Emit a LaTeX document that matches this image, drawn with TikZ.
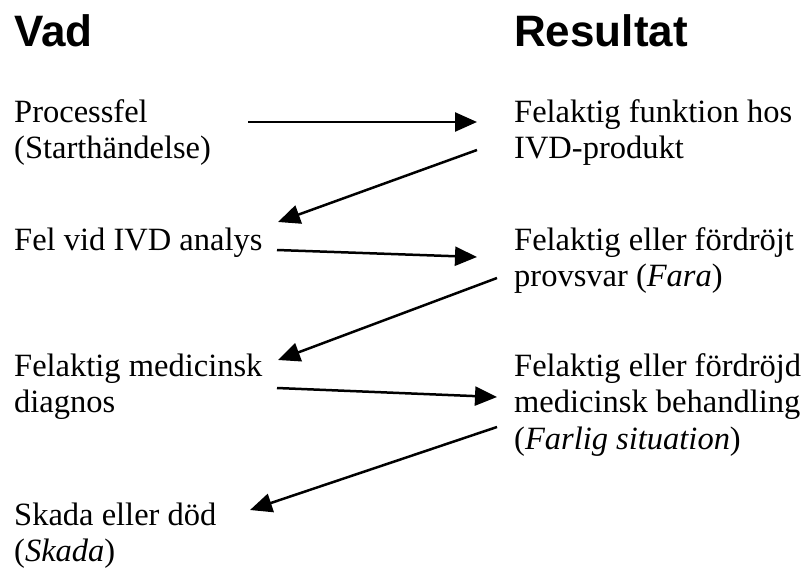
\documentclass[tikz,border=0pt]{standalone}
\usepackage{fontspec}
\setmainfont{Liberation Serif}
\newfontfamily\headfont{Liberation Sans}
\usepackage{tikz}
\usetikzlibrary{arrows.meta}

\begin{document}
\begin{tikzpicture}[
  x=1pt,y=-1pt,
  head/.style={anchor=base west,inner sep=0pt,font=\headfont\bfseries\fontsize{44}{50}\selectfont},
  item/.style={anchor=base west,inner sep=0pt,align=left,font=\fontsize{32.5}{36.5}\selectfont},
  arrow/.style={-{Triangle[length=22pt,width=19pt]},line width=2.5pt,draw=black}
]
\useasboundingbox (0,0) rectangle (806,570);
% column heads
\node[head] (vad) at (14,46) {Vad};
\node[head] (resultat) at (514,46) {Resultat};

% left column: what happens, right column: result
% (base of a multi-line node is its last line)
\node[item] (processfel) at (14,158.5) {Processfel\\(Starthändelse)};
\node[item] (funktion) at (514,158.5) {Felaktig funktion hos\\IVD-produkt};
\node[item] (analys) at (14,250) {Fel vid IVD analys};
\node[item] (fara) at (514,286.5) {Felaktig eller fördröjt\\provsvar (\textit{Fara})};
\node[item] (diagnos) at (14,412.5) {Felaktig medicinsk\\diagnos};
\node[item] (behandling) at (514,449) {Felaktig eller fördröjd\\medicinsk behandling\\(\textit{Farlig situation})};
\node[item] (skada) at (14,561.5) {Skada eller död\\(\textit{Skada})};

\draw[arrow] ([shift={(234,-36.5)}]processfel.base west) -- ([shift={(-37,-36.5)}]funktion.base west);
\draw[arrow] ([shift={(-37,-8.5)}]funktion.base west) -- ([shift={(264,-28)}]analys.base west);
\draw[arrow] ([shift={(263,0)}]analys.base west) -- ([shift={(-37,-29.5)}]fara.base west);
\draw[arrow] ([shift={(-17,-8.5)}]fara.base west) -- ([shift={(264,-52.5)}]diagnos.base west);
\draw[arrow] ([shift={(263,-24.5)}]diagnos.base west) -- ([shift={(-17,-52)}]behandling.base west);
\draw[arrow] ([shift={(-17,-22)}]behandling.base west) -- ([shift={(236,-51.5)}]skada.base west);
\end{tikzpicture}
\end{document}
